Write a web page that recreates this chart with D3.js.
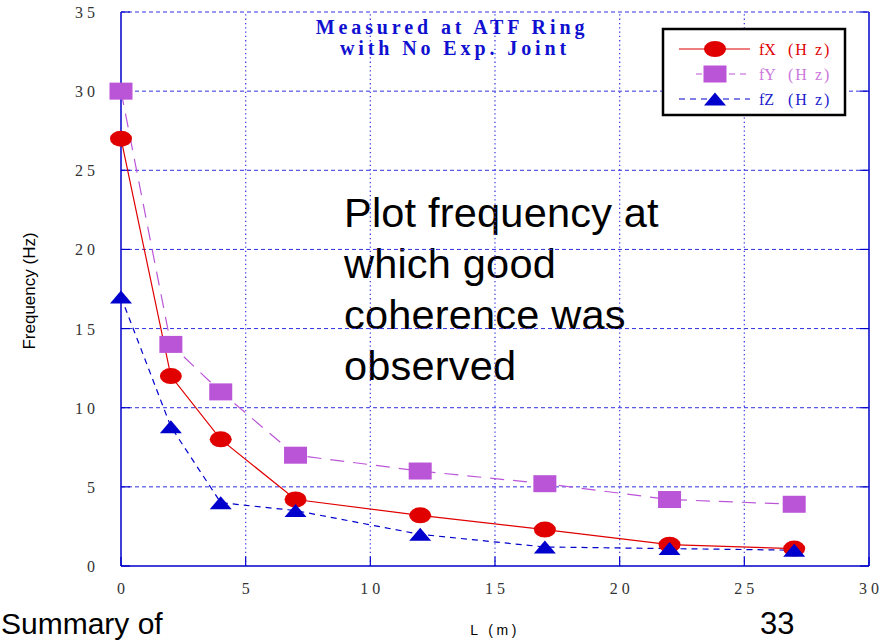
<!DOCTYPE html>
<html><head><meta charset="utf-8">
<script src="https://cdn.jsdelivr.net/npm/d3@7"></script>
<style>body{margin:0;background:#fff}svg{display:block}</style>
</head><body>
<svg id="c" width="888" height="640"></svg>
<script>
const L = [0, 2, 4, 7, 12, 17, 22, 27];
const fX = [27, 12, 8, 4.2, 3.2, 2.3, 1.35, 1.1];
const fY = [30, 14, 11, 7, 6, 5.2, 4.2, 3.9];
const fZ = [17, 8.8, 4.0, 3.5, 2.0, 1.2, 1.1, 1.0];
const xTicks = [0, 5, 10, 15, 20, 25, 30];
const yTicks = [0, 5, 10, 15, 20, 25, 30, 35];
const seriesNames = ["fX", "fY", "fZ"];
const unitLabel = "(H z)";
const titleLines = ["Measured at ATF Ring", "with No Exp. Joint"];
const noteLines = ["Plot frequency at", "which good", "coherence was", "observed"];

const svg = d3.select("#c");
const x = d3.scaleLinear().domain([0, 30]).range([121, 869]);
const y = d3.scaleLinear().domain([0, 35]).range([566, 12]);
const gridCol = "#3030e0", frameCol = "#0000cc";
const red = "#e00000", purple = "#bb55d8", blue = "#0000cc";
const sans = "'Liberation Sans', Arial, sans-serif";

// annotation (behind grid)
svg.append("g").selectAll("text").data(noteLines).join("text")
  .attr("x", 344).attr("y", (d, i) => 227 + i * 51)
  .attr("font-family", sans).attr("font-size", 41.5).attr("letter-spacing", 0.2).attr("fill", "#000")
  .text(d => d);

// grid
svg.append("g").selectAll("line").data(yTicks.filter(d => d > 0)).join("line")
  .attr("x1", x(0)).attr("x2", x(30)).attr("y1", d => y(d)).attr("y2", d => y(d))
  .attr("stroke", gridCol).attr("stroke-width", 1).attr("stroke-dasharray", "4,3");
svg.append("g").selectAll("line").data(xTicks.filter(d => d > 0 && d < 30)).join("line")
  .attr("y1", y(0)).attr("y2", y(35)).attr("x1", d => x(d)).attr("x2", d => x(d))
  .attr("stroke", "#4040e8").attr("stroke-width", 1.3).attr("stroke-dasharray", "1.3,3");
// frame
svg.append("line").attr("x1", x(0)).attr("x2", x(0)).attr("y1", y(0)).attr("y2", y(35)).attr("stroke", frameCol).attr("stroke-width", 1.5);
svg.append("line").attr("x1", x(30)).attr("x2", x(30)).attr("y1", y(0)).attr("y2", y(35)).attr("stroke", frameCol).attr("stroke-width", 1.5);
svg.append("line").attr("x1", x(0)).attr("x2", x(30)).attr("y1", y(0)).attr("y2", y(0)).attr("stroke", frameCol).attr("stroke-width", 1.5);
// inward ticks
svg.append("g").selectAll("line").data(yTicks).join("line")
  .attr("x1", x(0)).attr("x2", x(0) + 9).attr("y1", d => y(d)).attr("y2", d => y(d))
  .attr("stroke", frameCol).attr("stroke-width", 1.2);
svg.append("g").selectAll("line").data(yTicks).join("line")
  .attr("x1", x(30)).attr("x2", x(30) - 9).attr("y1", d => y(d)).attr("y2", d => y(d))
  .attr("stroke", frameCol).attr("stroke-width", 1.2);
svg.append("g").selectAll("line").data(xTicks).join("line")
  .attr("x1", d => x(d)).attr("x2", d => x(d)).attr("y1", y(0)).attr("y2", y(0) - 9)
  .attr("stroke", frameCol).attr("stroke-width", 1.2);

// tick labels
const tickFont = "'Liberation Serif', serif";
svg.append("g").selectAll("text").data(yTicks).join("text")
  .attr("x", 99).attr("y", d => y(d) + 6).attr("text-anchor", "end")
  .attr("font-family", tickFont).attr("font-size", 16).attr("letter-spacing", 4).attr("fill", "#333")
  .text(d => d);
svg.append("g").selectAll("text").data(xTicks).join("text")
  .attr("x", d => x(d) + 2).attr("y", 594).attr("text-anchor", "middle")
  .attr("font-family", tickFont).attr("font-size", 16).attr("letter-spacing", 4).attr("fill", "#333")
  .text(d => d);

// axis labels
svg.append("text").attr("transform", "translate(35,291) rotate(-90)").attr("text-anchor", "middle")
  .attr("font-family", sans).attr("font-size", 17).attr("fill", "#000")
  .text("Frequency (Hz)");
svg.append("text").attr("x", 495).attr("y", 635).attr("text-anchor", "middle")
  .attr("font-family", sans).attr("font-size", 14).attr("letter-spacing", 3.5).attr("fill", "#000")
  .attr("xml:space", "preserve").text("L (m)");

// title
svg.append("g").selectAll("text").data(titleLines).join("text")
  .attr("x", (d, i) => i ? 455 : 452).attr("y", (d, i) => 34 + i * 21).attr("text-anchor", "middle")
  .attr("font-family", tickFont).attr("font-weight", "bold").attr("font-size", 20)
  .attr("letter-spacing", 3.9).attr("fill", "#1010d0").text(d => d);

// series
const line = d3.line().x(d => x(d[0])).y(d => y(d[1]));
const series = [
  {vals: fX, col: red, dash: null, w: 1.2, shape: "circle"},
  {vals: fY, col: purple, dash: "14,9", w: 1.2, shape: "square"},
  {vals: fZ, col: blue, dash: "6,5", w: 1.2, shape: "triangle"}
];
function marker(g, s, cx, cy) {
  if (s.shape === "circle") g.append("ellipse").attr("cx", cx).attr("cy", cy).attr("rx", 11).attr("ry", 8).attr("fill", s.col);
  else if (s.shape === "square") g.append("rect").attr("x", cx - 11.5).attr("y", cy - 8.5).attr("width", 23).attr("height", 17).attr("fill", s.col);
  else g.append("path").attr("d", `M${cx - 11},${cy + 6.5}L${cx + 11},${cy + 6.5}L${cx},${cy - 6.5}Z`).attr("fill", s.col);
}
series.forEach(s => {
  const pts = L.map((l, i) => [l, s.vals[i]]);
  svg.append("path").attr("d", line(pts)).attr("fill", "none").attr("stroke", s.col)
    .attr("stroke-width", s.w).attr("stroke-dasharray", s.dash);
});
[series[1], series[0], series[2]].forEach(s => {
  const g = svg.append("g");
  L.forEach((l, i) => marker(g, s, x(l), y(s.vals[i])));
});

// legend
const lg = svg.append("g");
lg.append("rect").attr("x", 663).attr("y", 29).attr("width", 182).attr("height", 86)
  .attr("fill", "#fff").attr("stroke", "#000").attr("stroke-width", 2.5);
const legCols = [red, "#cc77dd", "#2020cc"];
series.forEach((s, i) => {
  const cy = 49 + i * 25;
  const x1 = i === 1 ? 696 : 679, x2 = i === 1 ? 747 : 750;
  lg.append("line").attr("x1", x1).attr("x2", x2).attr("y1", cy).attr("y2", cy)
    .attr("stroke", s.col).attr("stroke-width", 1.2).attr("stroke-dasharray", s.dash ? "6,5" : null);
  marker(lg, s, 715, cy);
  const t = lg.append("text").attr("y", cy + 6).attr("font-family", tickFont).attr("font-size", 16)
    .attr("fill", legCols[i]).attr("xml:space", "preserve");
  t.append("tspan").attr("x", 759).text(seriesNames[i]);
  t.append("tspan").attr("x", 788).attr("letter-spacing", 2).text(unitLabel);
});

svg.append("text").attr("x", 1).attr("y", 634).attr("font-family", sans)
  .attr("font-size", 30).attr("fill", "#000").text("Summary of");
svg.append("text").attr("x", 760).attr("y", 634).attr("font-family", sans)
  .attr("font-size", 31).attr("fill", "#000").text("33");
</script>
</body></html>
